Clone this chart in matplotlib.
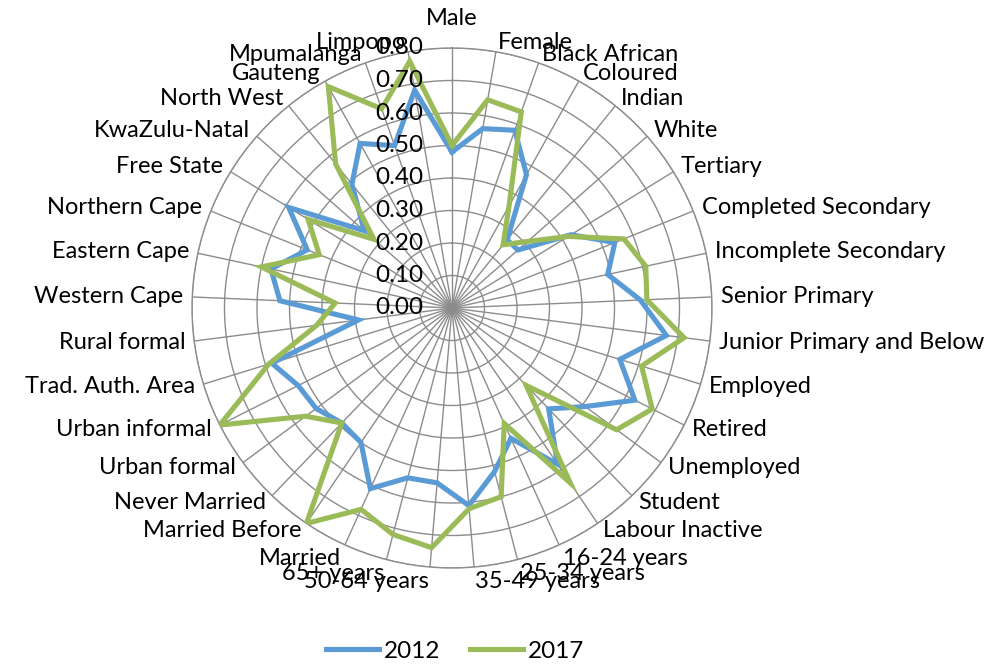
import numpy as np
import matplotlib
matplotlib.use('Agg')
import matplotlib.pyplot as plt

categories = ['Male', 'Female', 'Black African', 'Coloured', 'Indian', 'White',
              'Tertiary', 'Completed Secondary', 'Incomplete Secondary',
              'Senior Primary', 'Junior Primary and Below', 'Employed', 'Retired',
              'Unemployed', 'Student', 'Labour Inactive', '16-24 years',
              '25-34 years', '35-49 years', '50-64 years', '65+ years', 'Married',
              'Married Before', 'Never Married', 'Urban formal', 'Urban informal',
              'Trad. Auth. Area', 'Rural formal', 'Western Cape', 'Eastern Cape',
              'Northern Cape', 'Free State', 'KwaZulu-Natal', 'North West',
              'Gauteng', 'Mpumalanga', 'Limpopo']

values_2012 = [0.48, 0.56, 0.58, 0.47, 0.27, 0.27, 0.43, 0.54, 0.49, 0.58,
               0.665, 0.54, 0.63, 0.51, 0.43, 0.58, 0.44, 0.52, 0.61, 0.54,
               0.54, 0.61, 0.50, 0.49, 0.52, 0.53, 0.58, 0.29, 0.53, 0.57,
               0.48, 0.59, 0.36, 0.49, 0.58, 0.53, 0.68]

values_2017 = [0.50, 0.65, 0.64, 0.36, 0.25, 0.31, 0.42, 0.57, 0.61, 0.60,
               0.72, 0.61, 0.69, 0.63, 0.33, 0.65, 0.39, 0.60, 0.62, 0.74,
               0.72, 0.68, 0.80, 0.49, 0.56, 0.80, 0.59, 0.42, 0.36, 0.60,
               0.44, 0.52, 0.32, 0.57, 0.78, 0.65, 0.77]

r_ticks = [0.0, 0.1, 0.2, 0.3, 0.4, 0.5, 0.6, 0.7, 0.8]

plt.rcParams['font.family'] = ['Lato', 'DejaVu Sans']

fig = plt.figure(figsize=(10.04, 6.64), dpi=100)
# square polar axes, centre at (452, 308) px, radius 260 px
ax = fig.add_axes([192 / 1004, 96 / 664, 520 / 1004, 520 / 664], projection='polar')
ax.set_theta_zero_location('N')
ax.set_theta_direction(-1)

n = len(categories)
angles = np.arange(n) * 2 * np.pi / n

grid_col = '#8c8c8c'
ax.set_xticks(angles)
ax.set_xticklabels([])
ax.set_yticks(r_ticks[1:])
ax.set_yticklabels([])
ax.set_ylim(0, 0.8)
ax.grid(True, color=grid_col, linewidth=1.0)
ax.spines['polar'].set_color(grid_col)
ax.spines['polar'].set_linewidth(1.0)
ax.tick_params(length=0)

a_closed = np.append(angles, angles[0])
ax.plot(a_closed, values_2012 + values_2012[:1], color='#5b9bd5', lw=3.7,
        solid_joinstyle='miter', label='2012', zorder=3)
ax.plot(a_closed, values_2017 + values_2017[:1], color='#9bbb59', lw=3.7,
        solid_joinstyle='miter', label='2017', zorder=4)

# radial value labels along the top spoke
for r in r_ticks:
    ax.text(0.5 - 29 / 520, 0.5 + r / 0.8 * 0.5, '%.2f' % r, transform=ax.transAxes,
            ha='right', va='center', fontsize=17.5, zorder=6)

# category labels outside the outer ring
rr = 0.5 * 269 / 260
for ang, lab in zip(angles, categories):
    s, c = np.sin(ang), np.cos(ang)
    x = 0.5 + rr * s
    y = 0.5 + rr * c
    if abs(s) < 0.05:
        ha, va = 'center', 'bottom'
        y += 0.5 * 10 / 260
    else:
        ha = 'left' if s > 0 else 'right'
        va = 'center'
        if c < -0.9:
            y -= 0.5 * 5 / 260
    ax.text(x, y, lab, transform=ax.transAxes, ha=ha, va=va, fontsize=17, zorder=6)

fig.legend(loc='center', bbox_to_anchor=(455 / 1004, 13 / 664), ncol=2,
           frameon=False, fontsize=17.5, handlelength=2.2, handletextpad=0.2,
           columnspacing=1.2)

fig.savefig('out.png', dpi=100)
